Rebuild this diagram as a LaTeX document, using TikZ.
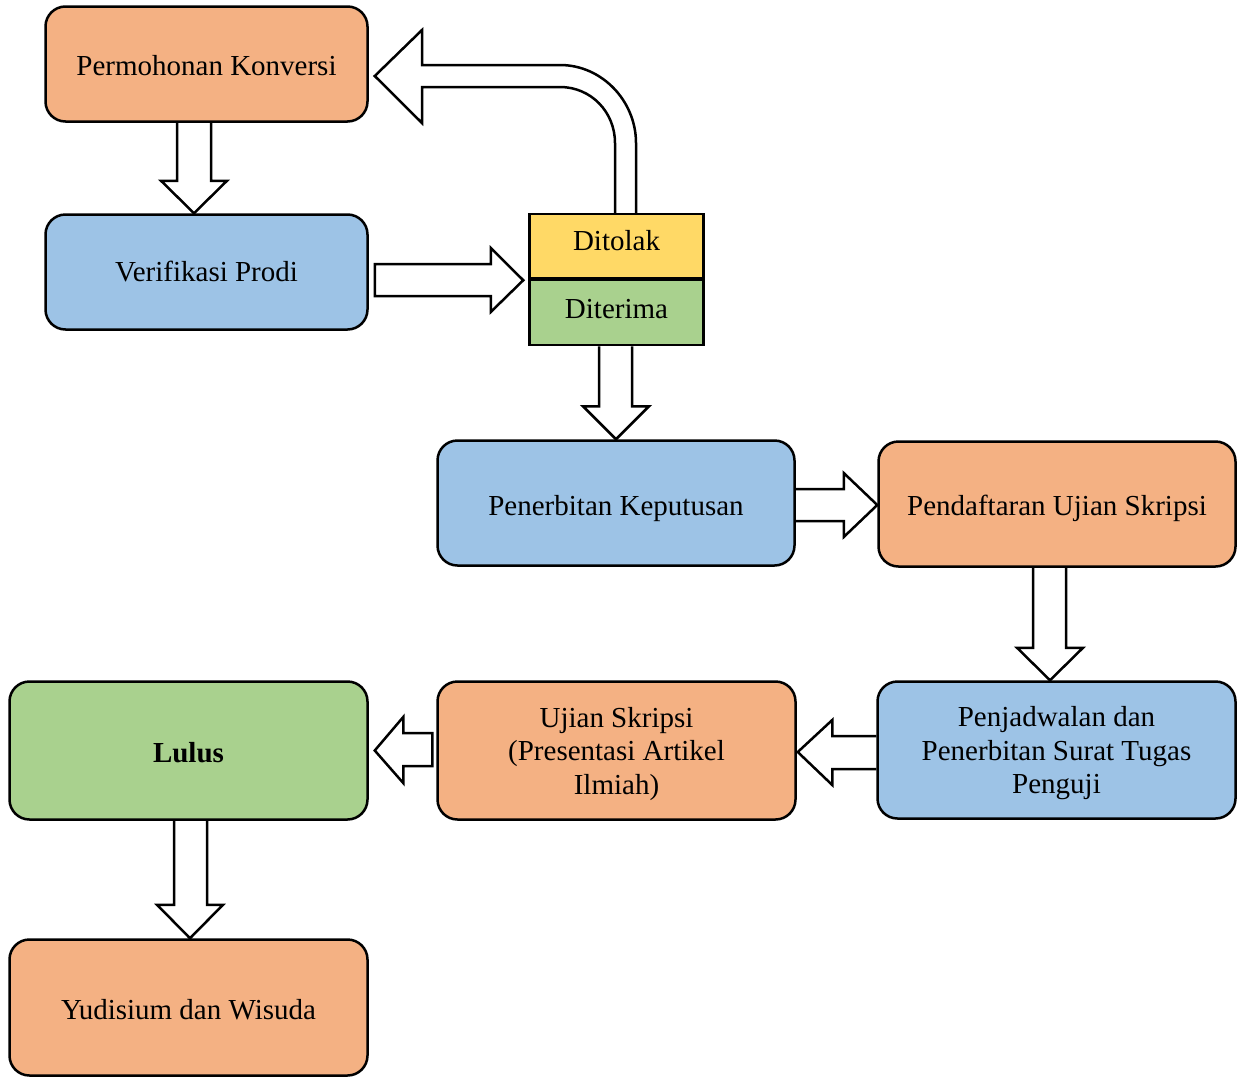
\documentclass[tikz,border=0pt]{standalone}
\usepackage{fontspec}
\setmainfont{Liberation Serif}
\usetikzlibrary{calc,backgrounds}
\definecolor{corange}{HTML}{F4B183}
\definecolor{cblue}{HTML}{9DC3E6}
\definecolor{cgreen}{HTML}{A9D18E}
\definecolor{cyellow}{HTML}{FFD966}
\tikzset{
  box/.style={draw=black, line width=2.5pt, rounded corners=20pt, align=center,
    font=\fontsize{29}{33.5}\selectfont, inner sep=0pt},
  sqbox/.style={draw=black, line width=2.5pt, align=center,
    font=\fontsize{29}{33.5}\selectfont, inner sep=0pt},
  tb/.style={text depth=0pt, text height=#1},
  barrow/.style={draw=black, fill=white, line width=2.5pt, line join=miter}
}
\begin{document}
\begin{tikzpicture}[x=1pt,y=-1pt]
\useasboundingbox (0,0) rectangle (1241,1079);
% boxes
\node[box, tb=22pt, fill=corange, minimum width=322pt, minimum height=115pt] (perm) at (206.5,64) {Permohonan Konversi};
\node[box, tb=19.4pt, fill=cblue, minimum width=322pt, minimum height=115pt] (verif) at (206.5,272) {Verifikasi Prodi};
\node[sqbox, tb=9.4pt, fill=cyellow, minimum width=174pt, minimum height=64pt] (ditolak) at (616.5,246) {Ditolak};
\node[sqbox, tb=11pt, fill=cgreen, minimum width=174pt, minimum height=65pt] (diterima) at (616.5,312.5) {Diterima};
\node[box, tb=24pt, fill=cblue, minimum width=357pt, minimum height=125pt] (penerb) at (616,503) {Penerbitan Keputusan};
\node[box, tb=22pt, fill=corange, minimum width=357pt, minimum height=125pt] (pendaf) at (1057,504) {Pendaftaran Ujian Skripsi};
\node[box, fill=cblue, minimum width=358pt, minimum height=137pt] (penjad) at (1056.5,750) {\rule{0pt}{27pt}Penjadwalan dan\\Penerbitan Surat Tugas\\Penguji};
\node[box, fill=corange, minimum width=358pt, minimum height=138pt] (ujian) at (616.5,750.5) {\rule{0pt}{27pt}Ujian Skripsi\\(Presentasi Artikel\\Ilmiah)};
\node[box, tb=23.6pt, fill=cgreen, minimum width=358pt, minimum height=138pt, font=\fontsize{29}{33.5}\selectfont\bfseries] (lulus) at (188.5,750.5) {Lulus};
\node[box, tb=23pt, fill=corange, minimum width=358pt, minimum height=136pt] (yudis) at (188.5,1007.5) {Yudisium dan Wisuda};

\begin{pgfonlayer}{background}
% A: perm -> verif
\draw[barrow] ($(perm.south)+(-29.5,0)$) -- ($(perm.south)+(-29.5,58)$) -- ($(perm.south)+(-45.5,58)$)
  -- ($(verif.north)+(-12.5,0)$) -- ($(perm.south)+(20.5,58)$) -- ($(perm.south)+(4.5,58)$) -- ($(perm.south)+(4.5,0)$);
% B: verif -> ditolak/diterima
\draw[barrow] ($(verif.east)+(6,-8)$) -- ($(verif.east)+(122,-8)$) -- ($(verif.east)+(122,-24)$)
  -- ($(ditolak.south west)+(-5,1)$) -- ($(verif.east)+(122,40)$) -- ($(verif.east)+(122,24)$) -- ($(verif.east)+(6,24)$) -- cycle;
% C: ditolak -> perm (curved)
\draw[barrow] ($(ditolak.north)+(19.5,0)$) -- (636,143) .. controls (636,101) and (602,65) .. (560,65)
  -- (422,65) -- (422,30) -- ($(perm.east)+(6,12)$) -- (422,123) -- (422,87) -- (560,87)
  .. controls (591,87) and (615,112) .. (615,143) -- ($(ditolak.north)+(-1.5,0)$);
% D: diterima -> penerb
\draw[barrow] ($(diterima.south)+(-17.5,0)$) -- ($(diterima.south)+(-17.5,60)$) -- ($(diterima.south)+(-33.5,60)$)
  -- ($(penerb.north)+(0,0)$) -- ($(diterima.south)+(32.5,60)$) -- ($(diterima.south)+(15.5,60)$) -- ($(diterima.south)+(15.5,0)$);
% E: penerb -> pendaf
\draw[barrow] ($(penerb.east)+(0,-14)$) -- ($(penerb.east)+(48,-14)$) -- ($(penerb.east)+(48,-30)$)
  -- ($(pendaf.west)+(0,1)$) -- ($(penerb.east)+(48,34)$) -- ($(penerb.east)+(48,18)$) -- ($(penerb.east)+(0,18)$);
% F: pendaf -> penjad
\draw[barrow] ($(pendaf.south)+(-24,0)$) -- ($(pendaf.south)+(-24,80)$) -- ($(pendaf.south)+(-40,80)$)
  -- ($(penjad.north)+(-6.5,0)$) -- ($(pendaf.south)+(26,80)$) -- ($(pendaf.south)+(9,80)$) -- ($(pendaf.south)+(9,0)$);
% G: penjad -> ujian
\draw[barrow] ($(penjad.west)+(0,-14)$) -- ($(penjad.west)+(-44,-14)$) -- ($(penjad.west)+(-44,-30)$)
  -- ($(ujian.east)+(1,1.5)$) -- ($(penjad.west)+(-44,35)$) -- ($(penjad.west)+(-44,19)$) -- ($(penjad.west)+(0,19)$);
% H: ujian -> lulus
\draw[barrow] ($(ujian.west)+(-4,-17.5)$) -- ($(ujian.west)+(-33,-17.5)$) -- ($(ujian.west)+(-33,-33.5)$)
  -- ($(lulus.east)+(6,0)$) -- ($(ujian.west)+(-33,32.5)$) -- ($(ujian.west)+(-33,15.5)$) -- ($(ujian.west)+(-4,15.5)$) -- cycle;
% I: lulus -> yudis
\draw[barrow] ($(lulus.south)+(-14.5,0)$) -- ($(lulus.south)+(-14.5,84)$) -- ($(lulus.south)+(-31.5,84)$)
  -- ($(yudis.north)+(1.5,0)$) -- ($(lulus.south)+(34.5,84)$) -- ($(lulus.south)+(18.5,84)$) -- ($(lulus.south)+(18.5,0)$);
\end{pgfonlayer}
\end{tikzpicture}
\end{document}
